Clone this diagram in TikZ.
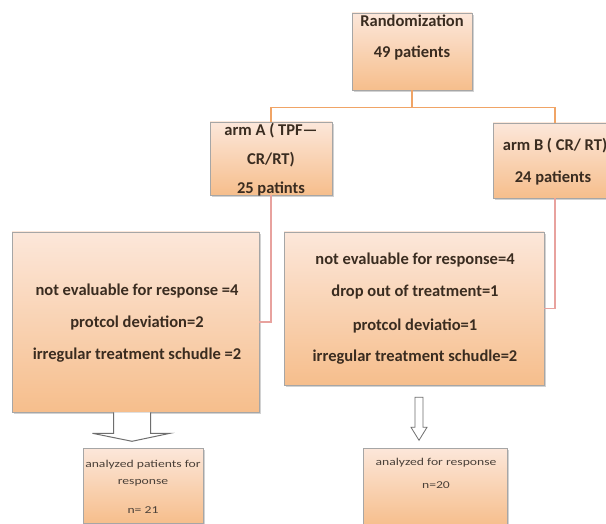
\documentclass[tikz,border=0pt]{standalone}
\usepackage{fontspec}
\setmainfont{Carlito}
\usetikzlibrary{shadows,calc}
\definecolor{boxtop}{HTML}{FCE7DA}
\definecolor{boxbot}{HTML}{F6BE8C}
\definecolor{boxline}{HTML}{A6A6A6}
\definecolor{txtc}{HTML}{3A2C20}
\definecolor{stxtc}{HTML}{4A4038}
\definecolor{linea}{HTML}{F0A466}
\definecolor{lineb}{HTML}{E8A29E}
\definecolor{arrline}{HTML}{6E6E6E}
\begin{document}
\begin{tikzpicture}[x=1pt,y=-1pt,
  box/.style={draw=boxline, line width=0.6pt, top color=boxtop, bottom color=boxbot,
    inner sep=0pt, drop shadow={opacity=0.35, shadow xshift=1.5pt, shadow yshift=-2pt, fill=gray}},
  txt/.style={text=txtc, font=\bfseries\fontsize{16.5}{19}\selectfont, inner sep=0pt},
  stxt/.style={text=stxtc, font=\fontsize{10.5}{12}\selectfont, inner sep=0pt},
  conna/.style={draw=linea, line width=1.4pt},
  connb/.style={draw=lineb, line width=1.2pt},
  hollow/.style={draw=arrline, fill=white, line width=1pt, line join=miter}]
\useasboundingbox (0,0) rectangle (606,524);
\fill[white] (0,0) rectangle (606,524);

% boxes
\node[box, minimum width=120pt, minimum height=77pt] (rand) at (412,51.5) {};
\node[box, minimum width=122pt, minimum height=73pt] (armA) at (271,158.5) {};
\node[box, minimum width=114pt, minimum height=75pt] (armB) at (550,160.5) {};
\node[box, minimum width=247pt, minimum height=180pt] (boxL) at (135.5,322) {};
\node[box, minimum width=260pt, minimum height=153pt] (boxR) at (414,308.5) {};
\node[box, minimum width=120pt, minimum height=75pt] (resL) at (143,485.5) {};
\node[box, minimum width=144pt, minimum height=78pt] (resR) at (435,487) {};

% texts
\node[txt] (t1) at (412,21) {Randomization};
\node[txt] (t2) at (412,53) {49 patients};
\node[txt] (a1) at (271,131) {arm A ( TPF—};
\node[txt] (a2) at (271,160) {CR/RT)};
\node[txt] (a3) at (271,189) {25 patints};
\node[txt] (b1) at (555,146) {arm B ( CR/ RT)};
\node[txt] (b2) at (553,178) {24 patients};
\node[txt] (l1) at (137,291) {not evaluable for response =4};
\node[txt] (l2) at (137,323) {protcol deviation=2};
\node[txt] (l3) at (137,355) {irregular treatment schudle =2};
\node[txt] (r1) at (415,260) {not evaluable for response=4};
\node[txt] (r2) at (415,292) {drop out of treatment=1};
\node[txt] (r3) at (415,326) {protcol deviatio=1};
\node[txt] (r4) at (415,357) {irregular treatment schudle=2};
\node[stxt] (s1) at (143,465) {\scalebox{1.3}[1]{analyzed patients for}};
\node[stxt] (s2) at (143,483) {\scalebox{1.3}[1]{response}};
\node[stxt] (s3) at (143,510) {\scalebox{1.3}[1]{n= 21}};
\node[stxt] (q1) at (436,463) {\scalebox{1.3}[1]{analyzed for response}};
\node[stxt] (q2) at (436,485) {\scalebox{1.3}[1]{n=20}};

% connectors
\draw[conna] (rand.south) -- ++(0,17) coordinate (j);
\draw[conna] (j) -| (armA.north);
\draw[conna] (j) -| ([xshift=5pt]armB.north);
\draw[connb] (armA.south) |- (boxL.east);
\draw[connb] ([xshift=5pt]armB.south) |- (boxR.east);

% hollow arrows
\coordinate (ha) at ($(boxL.south)+(-3.5,0)$);
\draw[hollow] ($(ha)+(-18.5,0)$) -- ++(0,21) -- ++(-21,0) -- ($(ha)+(0,29)$)
  -- ($(ha)+(38,21)$) -- ++(-19.5,0) -- ++(0,-21);
\coordinate (hb) at ($(boxR.south)+(5,12)$);
\draw[hollow, line width=0.8pt] ($(hb)+(-4,0)$) -- ++(0,30) -- ++(-4,0) -- ($(hb)+(0,43)$)
  -- ($(hb)+(8,30)$) -- ++(-4,0) -- ++(0,-30) -- cycle;
\end{tikzpicture}
\end{document}
